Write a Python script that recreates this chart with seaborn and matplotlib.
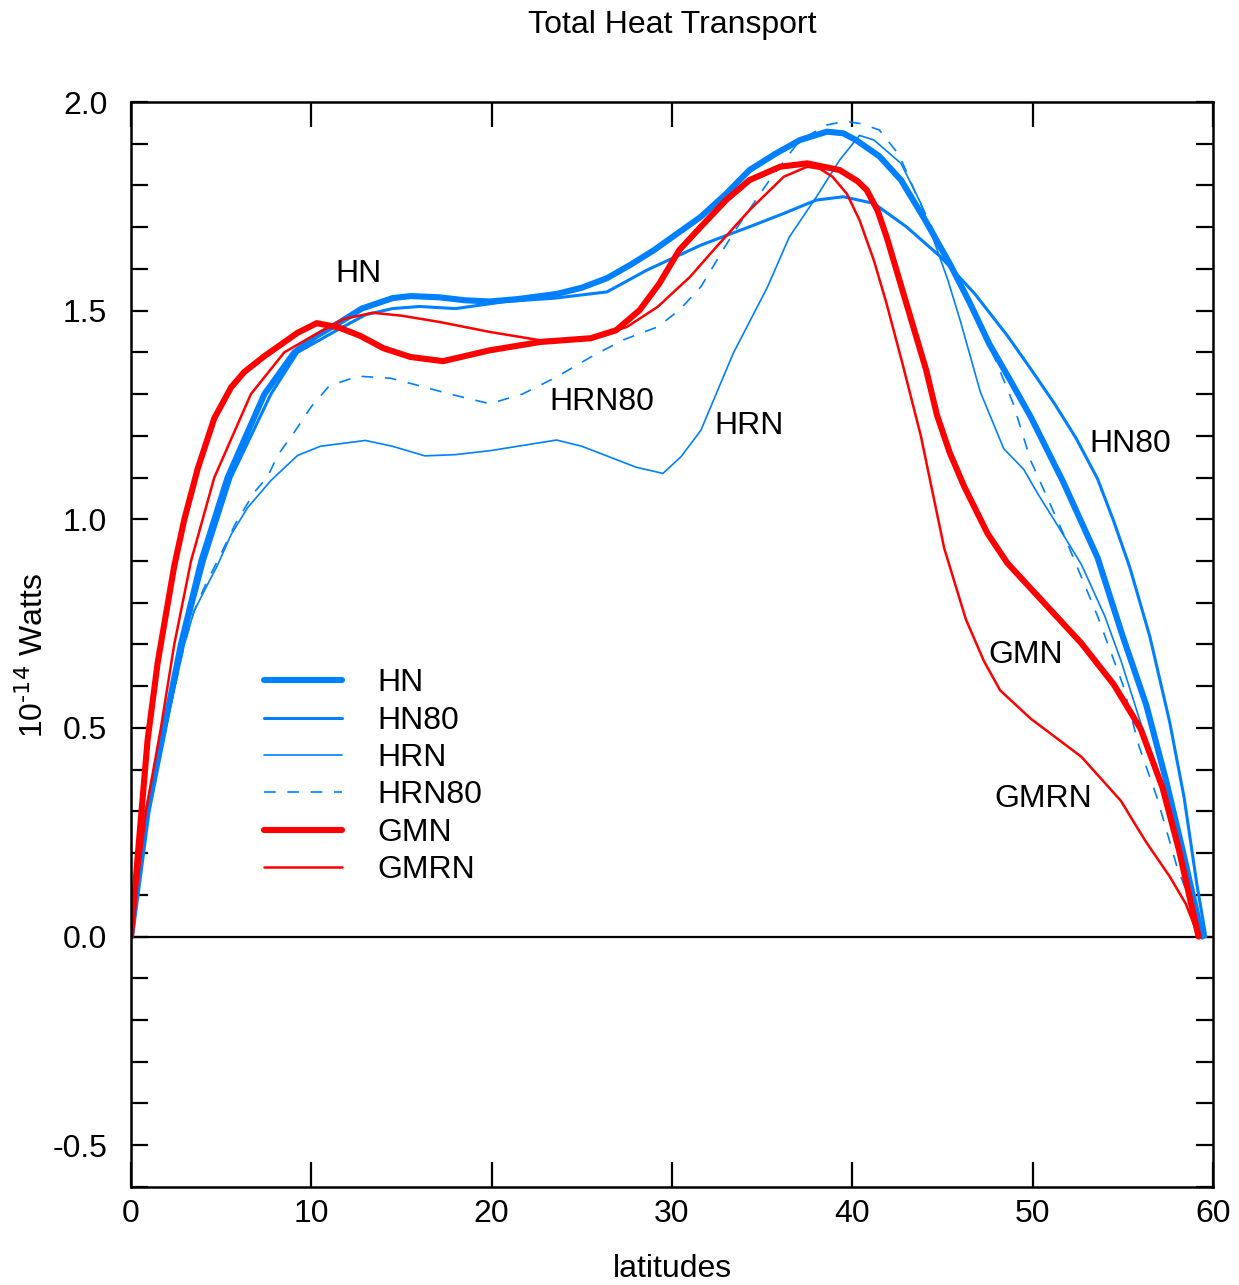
import numpy as np
import pandas as pd
import seaborn as sns
import matplotlib
matplotlib.use("Agg")
import matplotlib.pyplot as plt
from matplotlib.ticker import MultipleLocator, FormatStrFormatter

# values (latitude, 1e-14 W)
hn_x = [0, 0.92, 1.85, 2.77, 3.9, 5.36, 7.4, 9.06, 10.3, 11.5, 12.8, 14.5, 15.5, 17.1, 18.5, 19.9, 21.5,
        23.6, 25.0, 26.4, 27.7, 29.0, 30.3, 31.6, 33.0, 34.3, 35.7, 37.1, 38.6, 39.5, 40.2, 41.5, 42.7,
        44.0, 45.4, 46.5, 47.6, 48.8, 49.9, 51.7, 53.6, 55.0, 56.3, 57.4, 58.3, 59.4]
hn_y = [0, 0.3, 0.5, 0.7, 0.9, 1.1, 1.3, 1.4, 1.44, 1.47, 1.505, 1.53, 1.535, 1.532, 1.525, 1.522, 1.528,
        1.54, 1.555, 1.578, 1.61, 1.645, 1.685, 1.725, 1.78, 1.837, 1.875, 1.909, 1.929, 1.925, 1.909,
        1.87, 1.813, 1.72, 1.613, 1.52, 1.42, 1.33, 1.245, 1.089, 0.908, 0.719, 0.555, 0.374, 0.21, 0]

hn80_x = [0, 0.95, 1.9, 2.85, 4.07, 5.55, 7.76, 9.24, 11.5, 13.0, 14.5, 16.0, 18.0, 20.8, 23.5, 26.4,
          28.6, 30.0, 31.6, 33.0, 34.3, 36.2, 38.0, 39.5, 41.2, 43.0, 44.9, 46.8, 48.6, 49.9, 51.2, 52.4,
          53.6, 54.5, 55.4, 56.5, 57.6, 58.4, 59.1, 59.6]
hn80_y = [0, 0.3, 0.5, 0.7, 0.9, 1.1, 1.3, 1.4, 1.455, 1.49, 1.505, 1.51, 1.505, 1.522, 1.53, 1.545,
          1.597, 1.625, 1.657, 1.68, 1.701, 1.733, 1.765, 1.773, 1.757, 1.701, 1.629, 1.54, 1.44, 1.36,
          1.278, 1.195, 1.097, 0.995, 0.883, 0.719, 0.514, 0.333, 0.127, 0]

hrn_x = [0, 0.95, 1.94, 2.96, 3.5, 4.2, 4.8, 5.55, 6.47, 7.76, 9.24, 10.5, 13.0, 14.5, 16.3, 18.0, 20.0,
         23.6, 25.0, 26.5, 28.0, 29.5, 30.5, 31.6, 33.4, 35.3, 36.5, 38.0, 39.3, 40.4, 41.2, 42.7, 43.8,
         45.3, 46.0, 47.1, 48.4, 49.5, 50.3, 51.2, 52.7, 54.0, 54.9, 55.8, 56.9, 58.0, 59.1, 59.5]
hrn_y = [0, 0.3, 0.5, 0.7, 0.78, 0.84, 0.89, 0.963, 1.028, 1.093, 1.153, 1.175, 1.189, 1.175, 1.152,
         1.155, 1.165, 1.19, 1.175, 1.15, 1.125, 1.11, 1.15, 1.213, 1.398, 1.557, 1.676, 1.772, 1.861,
         1.92, 1.909, 1.853, 1.757, 1.573, 1.474, 1.305, 1.169, 1.12, 1.06, 0.998, 0.892, 0.768, 0.661,
         0.538, 0.39, 0.21, 0.045, 0]

hrn80_x = [0, 0.95, 1.94, 2.96, 3.5, 4.2, 4.8, 5.8, 6.84, 7.58, 8.13, 9.06, 10.0, 11.0, 12.6, 14.4, 16.0,
           17.7, 19.9, 21.7, 23.6, 25.5, 27.3, 29.2, 30.4, 31.6, 33.4, 35.3, 37.1, 38.6, 39.6, 40.5, 41.5,
           42.6, 43.6, 45.2, 46.5, 47.6, 48.9, 49.9, 51.7, 53.6, 55.0, 55.9, 56.9, 58.0, 59.5]
hrn80_y = [0, 0.3, 0.5, 0.7, 0.78, 0.85, 0.9, 0.99, 1.065, 1.102, 1.153, 1.209, 1.27, 1.32, 1.343, 1.338,
           1.32, 1.30, 1.277, 1.30, 1.341, 1.389, 1.43, 1.461, 1.501, 1.557, 1.686, 1.806, 1.909, 1.945,
           1.954, 1.948, 1.933, 1.873, 1.773, 1.63, 1.52, 1.418, 1.28, 1.14, 0.966, 0.768, 0.604, 0.456,
           0.333, 0.168, 0]

gmn_x = [0, 0.46, 0.92, 1.48, 2.03, 2.4, 2.96, 3.7, 4.62, 5.55, 6.28, 7.4, 9.24, 10.3, 11.5, 12.7, 14.0,
         15.5, 17.3, 19.9, 22.7, 25.5, 26.9, 28.2, 29.3, 30.4, 31.6, 33.0, 34.3, 36.0, 37.5, 39.3, 40.3,
         40.8, 41.4, 41.9, 43.0, 44.1, 44.7, 45.4, 46.2, 47.5, 48.6, 49.9, 52.7, 54.5, 56.0, 57.2, 58.1,
         59.2]
gmn_y = [0, 0.237, 0.47, 0.656, 0.795, 0.888, 1.0, 1.121, 1.242, 1.316, 1.353, 1.391, 1.447, 1.47, 1.46,
         1.44, 1.41, 1.389, 1.379, 1.405, 1.425, 1.434, 1.453, 1.501, 1.565, 1.645, 1.701, 1.765, 1.813,
         1.845, 1.853, 1.837, 1.81, 1.789, 1.74, 1.677, 1.517, 1.357, 1.249, 1.16, 1.079, 0.966, 0.895,
         0.834, 0.703, 0.604, 0.497, 0.357, 0.21, 0]

gmrn_x = [0, 0.83, 1.66, 2.4, 3.33, 4.62, 6.65, 8.5, 10.1, 11.8, 13.4, 15.0, 17.1, 19.9, 22.7, 25.5, 27.5,
          29.2, 31.0, 32.3, 34.3, 36.2, 37.5, 38.2, 38.9, 39.7, 40.4, 41.2, 41.9, 42.8, 43.8, 45.1, 46.3,
          47.3, 48.2, 49.9, 52.7, 54.9, 55.6, 56.3, 57.6, 58.5, 59.2]
gmrn_y = [0, 0.3, 0.5, 0.7, 0.9, 1.1, 1.3, 1.4, 1.44, 1.48, 1.495, 1.488, 1.473, 1.449, 1.429, 1.434,
          1.461, 1.509, 1.581, 1.645, 1.741, 1.821, 1.845, 1.84, 1.821, 1.78, 1.717, 1.62, 1.517, 1.37,
          1.2, 0.93, 0.76, 0.66, 0.59, 0.522, 0.431, 0.325, 0.275, 0.226, 0.144, 0.078, 0]

blue = "#0080FF"
red = "#FF0000"

sns.set_style("ticks")
plt.rcParams["font.family"] = ["Liberation Sans", "DejaVu Sans"]
plt.rcParams["text.color"] = "black"
plt.rcParams["axes.labelcolor"] = "black"
plt.rcParams["xtick.color"] = "black"
plt.rcParams["ytick.color"] = "black"

fig = plt.figure(figsize=(12.39, 12.85), dpi=100)
ax = fig.add_axes([0.1057, 0.0763, 0.8733, 0.8443])

series = [
    ("HN", hn_x, hn_y, blue, 4.4, "-"),
    ("HN80", hn80_x, hn80_y, blue, 2.2, "-"),
    ("HRN", hrn_x, hrn_y, blue, 1.2, "-"),
    ("HRN80", hrn80_x, hrn80_y, blue, 1.2, (0, (7, 7))),
    ("GMN", gmn_x, gmn_y, red, 4.4, "-"),
    ("GMRN", gmrn_x, gmrn_y, red, 1.8, "-"),
]
for name, xs, ys, col, lw, ls in series:
    df = pd.DataFrame({"lat": xs, "val": ys})
    sns.lineplot(data=df, x="lat", y="val", ax=ax, color=col, linewidth=lw,
                 linestyle=ls, label=name, sort=False, solid_joinstyle="round")

ax.axhline(0, color="black", lw=1.6, zorder=1)

ax.set_xlim(0, 60)
ax.set_ylim(-0.6, 2.0)
ax.xaxis.set_major_locator(MultipleLocator(10))
ax.yaxis.set_major_locator(MultipleLocator(0.5))
ax.yaxis.set_minor_locator(MultipleLocator(0.1))
ax.yaxis.set_major_formatter(FormatStrFormatter("%.1f"))
ax.tick_params(axis="x", which="major", direction="in", length=18, width=1.6,
               top=True, bottom=True, labelsize=23, pad=9)
ax.tick_params(axis="y", which="both", direction="in", length=12, width=1.6,
               left=True, right=True, labelsize=23, pad=17)
for s in ax.spines.values():
    s.set_linewidth(1.8)
    s.set_color("black")

ax.set_title("Total Heat Transport", fontsize=23, pad=50)
ax.set_xlabel("latitudes", fontsize=23, labelpad=18)
ax.set_ylabel(r"10$^{\text{-14}}$ Watts", fontsize=23, labelpad=0)
ax.yaxis.set_label_coords(-0.075, 0.49)

labels = [("HN", 12.6, 1.587), ("HRN80", 26.1, 1.28), ("HRN", 34.3, 1.223),
          ("HN80", 55.4, 1.18), ("GMN", 49.6, 0.674), ("GMRN", 50.6, 0.329)]
for t, lx, ly in labels:
    ax.text(lx, ly, t, fontsize=23, ha="center", va="center")

ax.legend(loc="upper left", bbox_to_anchor=(0.123, 0.478), frameon=False, fontsize=23,
          handlelength=2.45, handletextpad=1.1, labelspacing=0.23, borderpad=0, borderaxespad=0)

fig.savefig("out.png", dpi=100)
